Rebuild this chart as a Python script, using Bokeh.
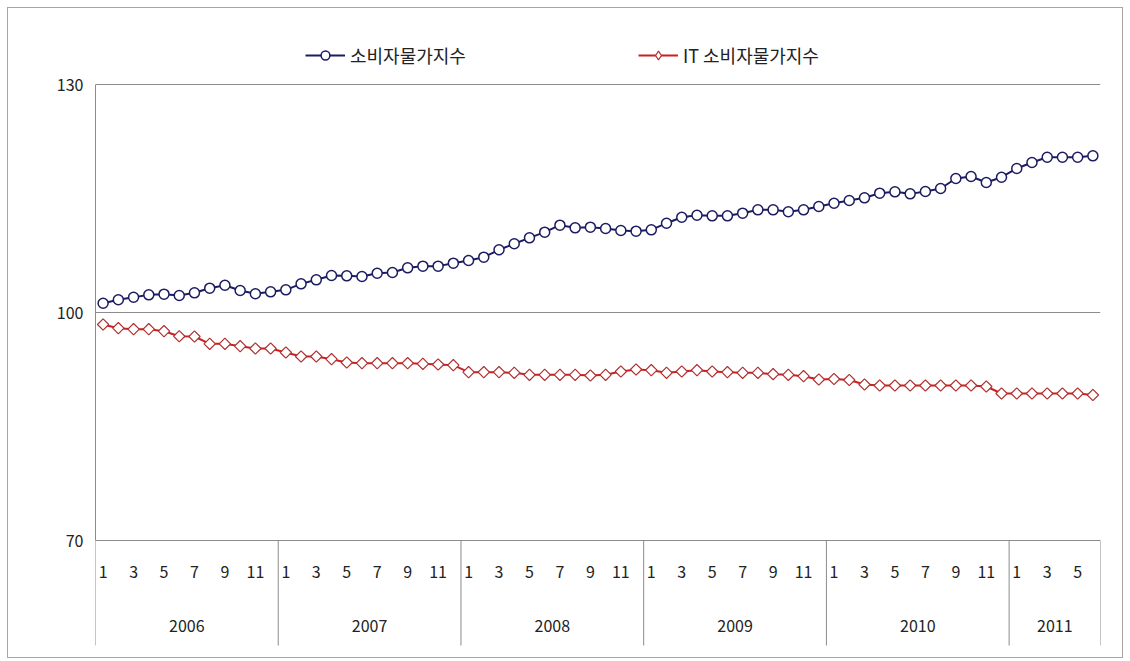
import numpy as np
from bokeh.plotting import figure
from bokeh.models import Range1d, FixedTicker, LinearAxis, Legend, LegendItem, Grid
from bokeh.core.properties import value
from bokeh.embed import file_html
from bokeh.resources import INLINE

# ---------------- data ----------------
years = ["2006", "2007", "2008", "2009", "2010", "2011"]
months_per_year = [12, 12, 12, 12, 12, 6]
series_names = ["소비자물가지수", "IT 소비자물가지수"]

cpi = [101.22, 101.67, 102.01, 102.32, 102.41, 102.24, 102.59, 103.20, 103.59, 102.89, 102.46, 102.72,
       102.98, 103.77, 104.30, 104.87, 104.82, 104.74, 105.17, 105.26, 105.88, 106.10, 106.10, 106.49,
       106.84, 107.28, 108.25, 109.04, 109.82, 110.57, 111.49, 111.14, 111.23, 111.05, 110.79, 110.70,
       110.88, 111.75, 112.54, 112.80, 112.72, 112.72, 113.07, 113.51, 113.51, 113.25, 113.51, 113.95,
       114.38, 114.74, 115.09, 115.70, 115.88, 115.61, 115.92, 116.32, 117.63, 117.89, 117.10, 117.80,
       118.95, 119.74, 120.43, 120.43, 120.43, 120.61]

it_cpi = [98.42, 97.94, 97.81, 97.81, 97.54, 96.88, 96.84, 95.88, 95.88, 95.57, 95.26, 95.26,
          94.74, 94.21, 94.21, 93.86, 93.42, 93.33, 93.33, 93.33, 93.33, 93.25, 93.16, 93.07,
          92.15, 92.15, 92.15, 92.06, 91.80, 91.80, 91.80, 91.80, 91.71, 91.80, 92.24, 92.50,
          92.41, 92.06, 92.24, 92.41, 92.24, 92.15, 92.06, 92.06, 91.89, 91.80, 91.62, 91.18,
          91.25, 91.12, 90.53, 90.39, 90.39, 90.39, 90.39, 90.39, 90.39, 90.39, 90.26, 89.34,
          89.34, 89.34, 89.34, 89.34, 89.34, 89.14]

y_ticks = [70, 100, 130]

# ---------------- layout constants (pixels) ----------------
Y0, Y1 = 70, 130
PX = 456 / (Y1 - Y0)              # pixels per y unit in the value area
TOP_PAD, BOT_PAD = 64, 115        # frame extends above 130 / below 70 (for legend / category labels)
Y_TOP = Y1 + TOP_PAD / PX
Y_BOT = Y0 - BOT_PAD / PX
Y_MONTH = Y0 - 31 / PX
Y_YEAR = Y0 - 85 / PX
Y_SEP = Y0 - 105 / PX

NAVY = "#1c1c62"
RED = "#cc1f1f"
DIAM = "#b03030"
GRAY = "#8c8c8c"
TXT = "#222222"
FONT = "Noto Sans CJK KR"

# ---------------- derived positions ----------------
x = list(range(len(cpi)))
mx, mlab, yx, ylab = [], [], [], []
boundaries = [-0.5]
start = 0
for yr, n in zip(years, months_per_year):
    for m in range(1, n + 1, 2):
        mx.append(start + m - 1)
        mlab.append(str(m))
    yx.append(start + (n - 1) / 2)
    ylab.append(yr)
    start += n
    boundaries.append(start - 0.5)

p = figure(width=1116, height=651, x_range=Range1d(-0.5, len(cpi) - 0.5),
           y_range=Range1d(Y_BOT, Y_TOP),
           output_backend="svg", toolbar_location=None, x_axis_type=None, y_axis_type=None,
           min_border_left=87, min_border_right=24, min_border_top=12, min_border_bottom=4)
p.outline_line_color = None
p.styles = {"border": "1px solid #a6a6a6", "margin-left": "7px", "margin-top": "7px"}

# y axis (line only between 70 and 130)
yaxis = LinearAxis(ticker=FixedTicker(ticks=y_ticks), bounds=(Y0, Y1),
                   major_tick_out=0, major_tick_in=0,
                   minor_tick_line_color=None, axis_line_color=GRAY,
                   major_label_text_font=FONT, major_label_text_font_size="16px",
                   major_label_text_color=TXT, major_label_standoff=12)
p.add_layout(yaxis, "left")
p.add_layout(Grid(dimension=1, ticker=FixedTicker(ticks=y_ticks), grid_line_color=GRAY))

# category axis drawn in data space: year separators, month and year labels
p.segment(x0=boundaries, y0=[Y0] * len(boundaries), x1=boundaries, y1=[Y_SEP] * len(boundaries),
          line_color=GRAY, line_width=1)
p.text(x=mx, y=[Y_MONTH] * len(mx), text=mlab, text_align="center", text_baseline="middle",
       text_font=value(FONT), text_font_size="16px", text_color=TXT)
p.text(x=yx, y=[Y_YEAR] * len(yx), text=ylab, text_align="center", text_baseline="middle",
       text_font=value(FONT), text_font_size="16px", text_color=TXT)

# series
r1 = p.line(x, cpi, line_color=NAVY, line_width=2)
s1 = p.scatter(x, cpi, marker="circle", size=10, fill_color="white", line_color=NAVY, line_width=1.5)
r2 = p.line(x, it_cpi, line_color=RED, line_width=2)
s2 = p.scatter(x, it_cpi, marker="square", angle=np.pi / 4, size=8, fill_color="white",
               line_color=DIAM, line_width=1.2)
# legend-only diamond: one point placed outside the visible x range
s2_leg = p.scatter(x=[-100], y=[Y0], marker="diamond", size=15, fill_color="white",
                   line_color=DIAM, line_width=1.2)

LEG_H = 22
legend = Legend(items=[LegendItem(label=series_names[0], renderers=[r1, s1]),
                       LegendItem(label=series_names[1], renderers=[r2, s2_leg])],
                orientation="horizontal", location=(210, 635 - 26 - LEG_H), glyph_width=40,
                glyph_height=LEG_H, label_height=LEG_H, spacing=172, label_standoff=5,
                margin=0, padding=0, border_line_color=None, background_fill_alpha=0,
                label_text_font=FONT, label_text_font_size="18px", label_text_color=TXT)
p.add_layout(legend)

open("out.html", "w").write(file_html(p, INLINE))
